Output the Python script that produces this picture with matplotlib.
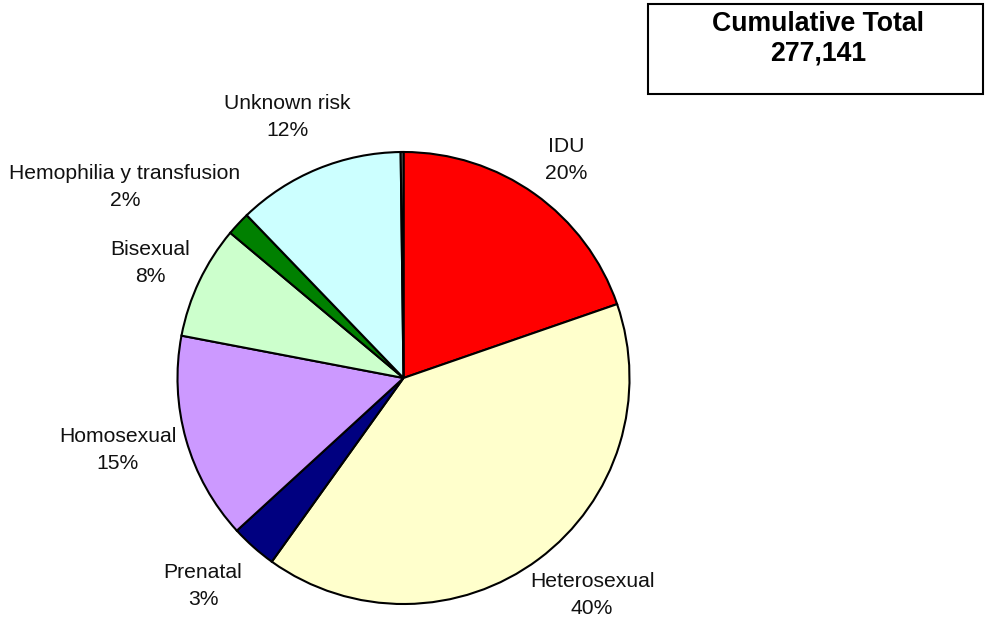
import matplotlib
matplotlib.use("Agg")
import matplotlib.pyplot as plt
from matplotlib.patches import Rectangle

# data (clockwise from 12 o'clock)
categories = ["IDU", "Heterosexual", "Prenatal", "Homosexual", "Bisexual",
              "Hemophilia y transfusion", "Unknown risk", "Other"]
shares = [19.7, 40.2, 3.3, 14.8, 8.1, 1.7, 12.0, 0.2]
pct_labels = ["20%", "40%", "3%", "15%", "8%", "2%", "12%", ""]
total_text = "277,141"

colors = ["#FF0000", "#FFFFCC", "#000080", "#CC99FF", "#CCFFCC",
          "#008000", "#CCFFFF", "#808080"]

# label centres in pixel coords (x, y from top)
label_pos = [(566, 160), (592, 595), (203, 586), (118, 450), (150, 263),
             (125, 187), (287, 117), None]

W, H = 985, 622
fig = plt.figure(figsize=(W / 100, H / 100), dpi=100)
ax = fig.add_axes([0, 0, 1, 1])

cx, cy, r = 403.5, H - 378, 226
ax.pie(shares, colors=colors, startangle=90, counterclock=False,
       center=(cx, cy), radius=r, frame=True,
       wedgeprops=dict(edgecolor="black", linewidth=1.5))
ax.set_xlim(0, W)
ax.set_ylim(0, H)
ax.axis("off")

font = ["Liberation Sans", "DejaVu Sans"]
for name, pct, pos in zip(categories, pct_labels, label_pos):
    if pos is None:
        continue
    ax.text(pos[0], H - pos[1], name + "\n" + pct, ha="center", va="center",
            fontsize=15.2, family=font, linespacing=1.48, color="#111111")

# cumulative total box
ax.add_patch(Rectangle((648, H - 94), 983 - 648, 90, fill=False,
                       edgecolor="black", linewidth=1.5))
ax.text(818, H - 39, "Cumulative Total\n" + total_text, ha="center",
        va="center", fontsize=19.2, fontweight="bold", family=font,
        linespacing=1.18)

fig.savefig("out.png", dpi=100)
